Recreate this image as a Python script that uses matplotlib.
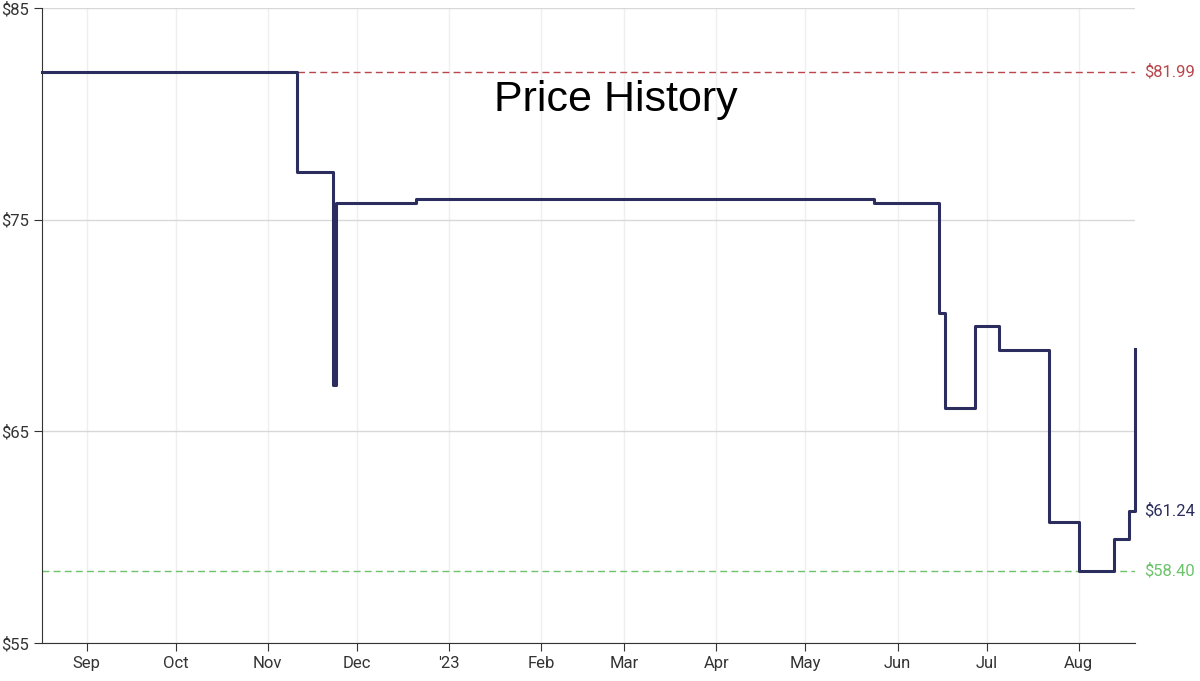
import matplotlib
matplotlib.use("Agg")
import matplotlib.pyplot as plt
import matplotlib.dates as mdates
import pandas as pd

# step change dates and prices (price holds from this date onward)
change_dates = ["2022-08-17", "2022-11-11", "2022-11-23", "2022-11-24", "2022-12-21",
                "2023-05-24", "2023-06-15", "2023-06-17", "2023-06-27", "2023-07-05",
                "2023-07-22", "2023-08-01", "2023-08-13", "2023-08-18", "2023-08-20"]
prices = [81.99, 77.25, 67.2, 75.8, 75.99,
          75.8, 70.6, 66.1, 70.0, 68.85,
          60.7, 58.40, 59.9, 61.24, 68.9]
end_date = "2023-08-20"

highest = 81.99
lowest = 58.40
current = 61.24

plt.rcParams['font.family'] = ['Roboto', 'DejaVu Sans']

dates = pd.to_datetime(change_dates + [end_date])
vals = prices + [prices[-1]]

fig = plt.figure(figsize=(12, 6.81), dpi=100)
ax = fig.add_axes([0.035, 0.056, 0.911, 0.932])

ax.axhline(highest, color="#b8464a", linestyle=(0, (5, 3)), linewidth=1)
ax.axhline(lowest, color="#6cc36c", linestyle=(0, (5, 3)), linewidth=1)
ax.step(dates, vals, where="post", color="#2b2d5e", linewidth=2.2, clip_on=False, zorder=3)

ax.set_xlim(pd.Timestamp("2022-08-17"), pd.Timestamp(end_date))
ax.set_ylim(55, 85)
ax.set_yticks([55, 65, 75, 85])
ax.set_yticklabels(["$55", "$65", "$75", "$85"])

ax.xaxis.set_major_locator(mdates.MonthLocator())
def fmt(x, pos):
    d = mdates.num2date(x)
    return "'23" if d.month == 1 else d.strftime("%b")
ax.xaxis.set_major_formatter(plt.FuncFormatter(fmt))

ax.grid(axis="y", color="#d8d8d8", linewidth=1)
ax.grid(axis="x", color="#efefef", linewidth=1)
ax.set_axisbelow(True)
for s in ["top", "right"]:
    ax.spines[s].set_visible(False)
ax.spines["left"].set_color("#333333")
ax.spines["bottom"].set_color("#333333")
ax.tick_params(axis="both", labelsize=12, colors="#333333", length=6)

tr = ax.get_yaxis_transform()
ax.text(1.008, highest, "$%.2f" % highest, transform=tr, color="#b8464a", fontsize=12, va="center")
ax.text(1.008, current, "$%.2f" % current, transform=tr, color="#2b2d5e", fontsize=12, va="center")
ax.text(1.008, lowest, "$%.2f" % lowest, transform=tr, color="#6cc36c", fontsize=12, va="center")

ax.text(0.525, 0.855, "Price History", transform=ax.transAxes, fontsize=31,
        family=["Liberation Sans"], ha="center", va="center", color="black")

fig.savefig("out.png", dpi=100)
plt.close("all")
